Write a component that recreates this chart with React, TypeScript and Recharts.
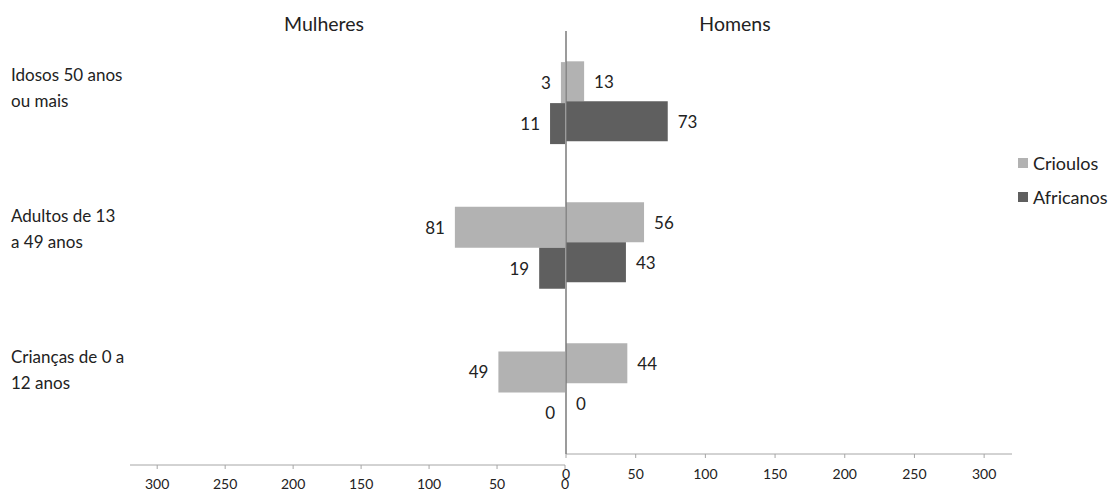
import { BarChart, Bar, XAxis, YAxis, LabelList } from "recharts";

// age groups, top to bottom
const categories = ["Idosos 50 anos ou mais", "Adultos de 13 a 49 anos", "Crianças de 0 a 12 anos"];
const categoryLines = [
  ["Idosos 50 anos", "ou mais"],
  ["Adultos de 13", "a 49 anos"],
  ["Crianças de 0 a", "12 anos"],
];

const mulheresCrioulos = [3, 81, 49];
const mulheresAfricanos = [11, 19, 0];
const homensCrioulos = [13, 56, 44];
const homensAfricanos = [73, 43, 0];

const xTicks = [0, 50, 100, 150, 200, 250, 300];

const mulheresData = categories.map((cat, i) => ({
  cat,
  crioulos: mulheresCrioulos[i],
  africanos: mulheresAfricanos[i],
}));
const homensData = categories.map((cat, i) => ({
  cat,
  crioulos: homensCrioulos[i],
  africanos: homensAfricanos[i],
}));

const FONT = "Lato, 'Open Sans', sans-serif";
const TEXT = "#222";
const LIGHT = "#b2b2b2";
const DARK = "#5f5f5f";
const AXIS = "#a6a6a6";
const W = 1116;
const H = 491;

// keep zero-valued bars in the layout so their "0" label still shows
const tinyForZero = (value: any) => (Number(value) === 0 ? 0.01 : 0);

// value label beside the outer end of a bar
const valueLabel = (side: "left" | "right") => (props: any) => {
  const x = Number(props.x);
  const w = Number(props.width);
  const y = Number(props.y);
  const h = Number(props.height);
  const tx = side === "left" ? Math.min(x, x + w) - 10 : Math.max(x, x + w) + 10;
  return (
    <text
      x={tx}
      y={y + h / 2}
      textAnchor={side === "left" ? "end" : "start"}
      dominantBaseline="central"
      fontFamily={FONT}
      fontSize={17}
      fill={TEXT}
    >
      {props.value}
    </text>
  );
};

// two-line category label at the far left
const CategoryTick = (props: any) => {
  const idx = categories.indexOf(props.payload.value);
  const lines = categoryLines[idx] || [];
  return (
    <text x={11} y={props.y - 28} fontFamily={FONT} fontSize={17} fill={TEXT} dominantBaseline="central">
      {lines.map((l, i) => (
        <tspan key={i} x={11} dy={i === 0 ? 0 : 26}>
          {l}
        </tspan>
      ))}
    </text>
  );
};

const tickStyle = { fontFamily: FONT, fontSize: 14, fill: TEXT };

export default function App() {
  return (
    <div style={{ position: "absolute", left: 0, top: 0, width: W, height: H, background: "#fff" }}>
      {/* women, growing to the left */}
      <div style={{ position: "absolute", left: 0, top: 0 }}>
        <BarChart
          width={W}
          height={H}
          data={mulheresData}
          layout="vertical"
          margin={{ top: 31, right: 551, bottom: 0, left: 130 }}
          barCategoryGap="21.5%"
          barGap={0}
        >
          <XAxis
            type="number"
            domain={[0, 320]}
            ticks={xTicks}
            reversed
            height={26}
            stroke={AXIS}
            tickSize={4}
            tickMargin={10}
            tick={tickStyle}
            tickLine={{ stroke: AXIS }}
          />
          <YAxis type="category" dataKey="cat" hide />
          <Bar dataKey="crioulos" fill={LIGHT} minPointSize={tinyForZero} isAnimationActive={false}>
            <LabelList dataKey="crioulos" content={valueLabel("left")} />
          </Bar>
          <Bar dataKey="africanos" fill={DARK} minPointSize={tinyForZero} isAnimationActive={false}>
            <LabelList dataKey="africanos" content={valueLabel("left")} />
          </Bar>
        </BarChart>
      </div>

      {/* men, growing to the right */}
      <div style={{ position: "absolute", left: 0, top: 0 }}>
        <BarChart
          width={W}
          height={H}
          data={homensData}
          layout="vertical"
          margin={{ top: 31, right: 104, bottom: 7, left: 506 }}
          barCategoryGap="21.5%"
          barGap={0}
        >
          <XAxis
            type="number"
            domain={[0, 320]}
            ticks={xTicks}
            height={30}
            stroke={AXIS}
            tickSize={4}
            tickMargin={11}
            tick={tickStyle}
            tickLine={{ stroke: AXIS }}
          />
          <Bar dataKey="crioulos" fill={LIGHT} minPointSize={tinyForZero} isAnimationActive={false}>
            <LabelList dataKey="crioulos" content={valueLabel("right")} />
          </Bar>
          <Bar dataKey="africanos" fill={DARK} minPointSize={tinyForZero} isAnimationActive={false}>
            <LabelList dataKey="africanos" content={valueLabel("right")} />
          </Bar>
          <YAxis
            type="category"
            dataKey="cat"
            width={60}
            stroke="#7a7a7a"
            strokeWidth={1.5}
            tickLine={false}
            tick={<CategoryTick />}
          />
        </BarChart>
      </div>

      <div style={{ position: "absolute", left: 0, top: 0, width: W, fontFamily: FONT, color: TEXT }}>
        <div style={{ position: "absolute", left: 324, top: 12, fontSize: 19.5, transform: "translateX(-50%)" }}>Mulheres</div>
        <div style={{ position: "absolute", left: 735, top: 12, fontSize: 19.5, transform: "translateX(-50%)" }}>Homens</div>
        {[
          { name: "Crioulos", color: LIGHT, top: 153 },
          { name: "Africanos", color: DARK, top: 187 },
        ].map((item) => (
          <div
            key={item.name}
            style={{ position: "absolute", left: 1018, top: item.top, fontSize: 18, display: "flex", alignItems: "center", lineHeight: "20px" }}
          >
            <span style={{ width: 10, height: 10, background: item.color, marginRight: 5, display: "inline-block" }} />
            {item.name}
          </div>
        ))}
      </div>
    </div>
  );
}
